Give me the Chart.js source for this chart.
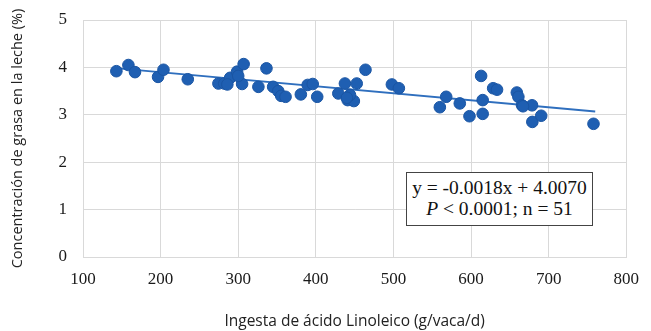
<!DOCTYPE html>
<html>
<head>
<meta charset="utf-8">
<script src="https://cdn.jsdelivr.net/npm/chart.js@4.4.1/dist/chart.umd.min.js"></script>
<style>
html,body{margin:0;padding:0;background:#fff;}
#wrap{position:relative;width:651px;height:331px;}
#eq{position:absolute;left:406px;top:172px;width:187px;height:54px;border:1.5px solid #444;background:#fff;
font-family:"Liberation Serif","Times New Roman",serif;font-size:19.5px;line-height:21px;color:#111;text-align:center;box-sizing:border-box;padding-top:4px;white-space:nowrap;}
</style>
</head>
<body>
<div id="wrap"><canvas id="c" width="651" height="331"></canvas>
<div id="eq">y = -0.0018x + 4.0070<br><i>P</i> &lt; 0.0001; n = 51</div></div>
<script>
const linoleicIntake = [143,158.5,167,196.7,203.7,235,274.5,282,289.6,298.5,307,305,336.4,326,345,351.6,355.4,361,380.7,389.5,396,401.8,429,437.5,452.7,464,441,449,444,498,507,559.8,568,585.5,598,615,615,613,628.5,633.5,659,661,665.7,678.6,679,690.4,757.8,286,300,440,667];
const milkFat = [3.92,4.05,3.90,3.80,3.95,3.75,3.66,3.66,3.78,3.91,4.07,3.65,3.98,3.59,3.59,3.50,3.40,3.38,3.43,3.63,3.65,3.38,3.45,3.66,3.66,3.95,3.31,3.29,3.42,3.64,3.56,3.16,3.38,3.24,2.97,3.02,3.31,3.82,3.56,3.53,3.47,3.38,3.20,3.20,2.85,2.98,2.81,3.64,3.82,3.36,3.18];
const trendX = [138, 760];
const trendY = [3.99, 3.07];
const xTicks = [100,200,300,400,500,600,700,800];
const yTicks = [0,1,2,3,4,5];

const pts = linoleicIntake.map((x,i)=>({x:x,y:milkFat[i]}));
const trend = trendX.map((x,i)=>({x:x,y:trendY[i]}));
const serif = '"Liberation Serif","Times New Roman",serif';
const sans = '"Open Sans","Noto Sans",sans-serif';

new Chart(document.getElementById('c'),{
  type:'scatter',
  data:{datasets:[
    {data:trend,type:'line',showLine:true,borderColor:'#2f6fbe',borderWidth:2,pointRadius:0,fill:false,order:1},
    {data:pts,backgroundColor:'#1f5fb2',borderColor:'#1a55a3',borderWidth:1,pointRadius:5.8,order:0}
  ]},
  options:{
    responsive:false,animation:false,
    layout:{padding:{top:0,right:14,left:0,bottom:0}},
    plugins:{legend:{display:false},tooltip:{enabled:false}},
    scales:{
      x:{type:'linear',min:100,max:800,
        afterBuildTicks:a=>{a.ticks=xTicks.map(v=>({value:v}));},
        afterFit:a=>{a.height=74;},
        grid:{color:'#d9d9d9',drawTicks:false},
        border:{color:'#d9d9d9'},
        ticks:{font:{family:serif,size:17},color:'#1a1a1a',padding:12,maxRotation:0},
        title:{display:true,text:'Ingesta de ácido Linoleico (g/vaca/d)',font:{family:sans,size:15.5},color:'#222',padding:{top:0,bottom:0}}
      },
      y:{type:'linear',min:0,max:5,
        afterBuildTicks:a=>{a.ticks=yTicks.map(v=>({value:v}));},
        afterFit:a=>{a.width=83;a.paddingTop=20;},
        grid:{color:'#d9d9d9',drawTicks:false},
        border:{color:'#d9d9d9'},
        ticks:{font:{family:serif,size:17},color:'#1a1a1a',padding:16},
        title:{display:true,text:'Concentración de grasa en la leche (%)',font:{family:sans,size:14.5},color:'#222',padding:{top:9,bottom:0}}
      }
    }
  }
});
</script>
</body>
</html>
